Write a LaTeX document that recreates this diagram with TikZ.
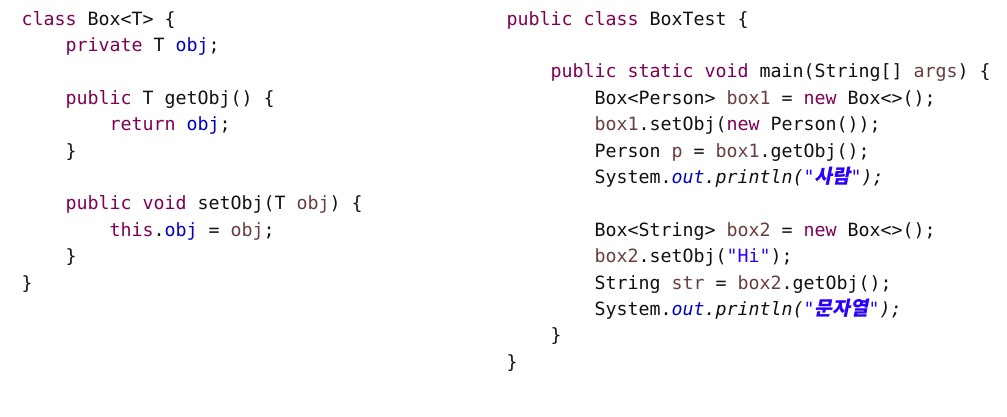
\documentclass[tikz,border=0pt]{standalone}
\usepackage{fontspec}
\setmonofont{DejaVu Sans Mono}
\newfontfamily\krfont{Noto Sans CJK KR}[FakeSlant=0.2]
\definecolor{kw}{HTML}{7F0055}
\definecolor{fld}{HTML}{0000C0}
\definecolor{var}{HTML}{6A3E3E}
\definecolor{strc}{HTML}{2A00FF}
\definecolor{txt}{HTML}{111111}
\newcommand\Kw[1]{\textcolor{kw}{#1}}
\newcommand\Fd[1]{\textcolor{fld}{#1}}
\newcommand\Vr[1]{\textcolor{var}{#1}}
\newcommand\St[1]{\textcolor{strc}{#1}}
\newcommand\Hg[1]{{\krfont\fontsize{19.5}{26.4}\selectfont\bfseries #1}}
\tikzset{
  codeline/.style={anchor=base west, inner sep=0pt, text=txt,
    font=\ttfamily\fontsize{18.27}{26.4}\selectfont}
}
\begin{document}
\begin{tikzpicture}[x=1pt,y=-1pt]
\fill[white] (0,0) rectangle (1007,416);
\useasboundingbox (0,0) rectangle (1007,416);
% left listing
\node[codeline] (l1) at (21.5,25) {\Kw{class} Box<T> \{};
\node[codeline] (l2) at (65.5,51.4) {\Kw{private} T \Fd{obj};};
\node[codeline] (l4) at (65.5,104.2) {\Kw{public} T getObj() \{};
\node[codeline] (l5) at (109.5,130.6) {\Kw{return} \Fd{obj};};
\node[codeline] (l6) at (65.5,157) {\}};
\node[codeline] (l8) at (65.5,209.8) {\Kw{public} \Kw{void} setObj(T \Vr{obj}) \{};
\node[codeline] (l9) at (109.5,236.2) {\Kw{this}.\Fd{obj} = \Vr{obj};};
\node[codeline] (l10) at (65.5,262.6) {\}};
\node[codeline] (l11) at (21.5,289) {\}};
% right listing
\node[codeline] (r1) at (506.5,25) {\Kw{public} \Kw{class} BoxTest \{};
\node[codeline] (r3) at (550.5,77.8) {\Kw{public} \Kw{static} \Kw{void} main(String[] \Vr{args}) \{};
\node[codeline] (r4) at (594.5,104.2) {Box<Person> \Vr{box1} = \Kw{new} Box<>();};
\node[codeline] (r5) at (594.5,130.6) {\Vr{box1}.setObj(\Kw{new} Person());};
\node[codeline] (r6) at (594.5,157) {Person \Vr{p} = \Vr{box1}.getObj();};
\node[codeline] (r7) at (594.5,183.4) {System.\textit{\Fd{out}.println(\St{"\Hg{사람}"});}};
\node[codeline] (r9) at (594.5,236.2) {Box<String> \Vr{box2} = \Kw{new} Box<>();};
\node[codeline] (r10) at (594.5,262.6) {\Vr{box2}.setObj(\St{"Hi"});};
\node[codeline] (r11) at (594.5,289) {String \Vr{str} = \Vr{box2}.getObj();};
\node[codeline] (r12) at (594.5,315.4) {System.\textit{\Fd{out}.println(\St{"\Hg{문자열}"});}};
\node[codeline] (r13) at (550.5,341.8) {\}};
\node[codeline] (r14) at (506.5,368.2) {\}};
\end{tikzpicture}
\end{document}
